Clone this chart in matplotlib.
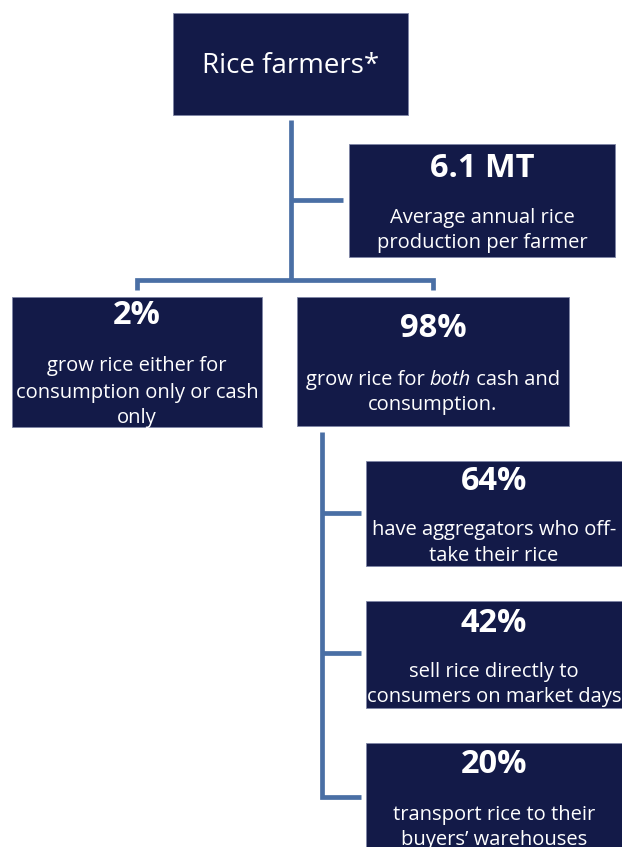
import matplotlib
matplotlib.use("Agg")
import matplotlib.pyplot as plt
from matplotlib.patches import Rectangle

# ---- content ----
root_label = "Rice farmers*"
stat_values = ["6.1 MT", "2%", "98%", "64%", "42%", "20%"]
stat_texts = [
    ["Average annual rice", "production per farmer"],
    ["grow rice either for", "consumption only or cash", "only"],
    [["grow rice for ", ("both", "italic"), " cash and"], "consumption."],
    ["have aggregators who off-", "take their rice"],
    ["sell rice directly to", "consumers on market days"],
    ["transport rice to their", "buyers\u2019 warehouses"],
]

# ---- layout (pixel coords, y down) ----
W, H = 622, 847
NAVY = "#131A48"
EDGE = "#7F86A6"
LINE = "#4A6FA5"
FONT = "Open Sans"

root_box = (173, 13, 408, 115)
boxes = [
    (349, 144, 615, 257),
    (12, 297, 262, 427),
    (297, 297, 569, 426),
    (366, 461, 622, 566),
    (366, 601, 622, 708),
    (366, 743, 622, 860),
]
num_base = [177, 324, 337, 490, 632, 773]
line_base = [
    [223, 248],
    [371, 398, 423],
    [385, 410],
    [535, 561],
    [677, 702],
    [820, 845],
]
BODY_FS = 14.5
NUM_FS = 23.5
ROOT_FS = 20

fig = plt.figure(figsize=(W / 100, H / 100), dpi=100)
ax = fig.add_axes([0, 0, 1, 1])
ax.set_xlim(0, W)
ax.set_ylim(H, 0)
ax.axis("off")


def draw_box(b):
    x0, y0, x1, y1 = b
    ax.add_patch(Rectangle((x0, y0), x1 - x0, y1 - y0, facecolor=NAVY,
                           edgecolor=EDGE, linewidth=0.6, zorder=2))


lw = 3.4
lk = dict(color=LINE, lw=lw, solid_capstyle="butt", solid_joinstyle="miter", zorder=1)

# connectors
ax.plot([291, 291], [120, 280], **lk)
ax.plot([291, 343], [200, 200], **lk)
ax.plot([137, 137, 433, 433], [290, 280, 280, 290], **lk)
ax.plot([322, 322, 361], [432, 797, 797], **lk)
ax.plot([322, 361], [513, 513], **lk)
ax.plot([322, 361], [653, 653], **lk)

draw_box(root_box)
ax.text((root_box[0] + root_box[2]) / 2, 73, root_label, color="white",
        fontsize=ROOT_FS, family=FONT, ha="center", va="baseline", zorder=3)

fig.canvas.draw()
renderer = fig.canvas.get_renderer()

for b, val, lines, nb, lb in zip(boxes, stat_values, stat_texts, num_base, line_base):
    draw_box(b)
    cx = (b[0] + b[2]) / 2
    ax.text(cx, nb, val, color="white", fontsize=NUM_FS, fontweight="bold",
            family=FONT, ha="center", va="baseline", zorder=3)
    for ln, y in zip(lines, lb):
        if isinstance(ln, str):
            ax.text(cx, y, ln, color="white", fontsize=BODY_FS, family=FONT,
                    ha="center", va="baseline", zorder=3)
        else:
            pieces = []
            for p in ln:
                s, st = (p, "normal") if isinstance(p, str) else p
                t = ax.text(0, y, s, color="white", fontsize=BODY_FS, family=FONT,
                            style=st, ha="left", va="baseline", zorder=3)
                pieces.append(t)
            widths = [t.get_window_extent(renderer=renderer).width for t in pieces]
            total = sum(widths)
            x = cx - total / 2
            for t, w in zip(pieces, widths):
                t.set_x(x)
                x += w

fig.savefig("out.png", dpi=100)
